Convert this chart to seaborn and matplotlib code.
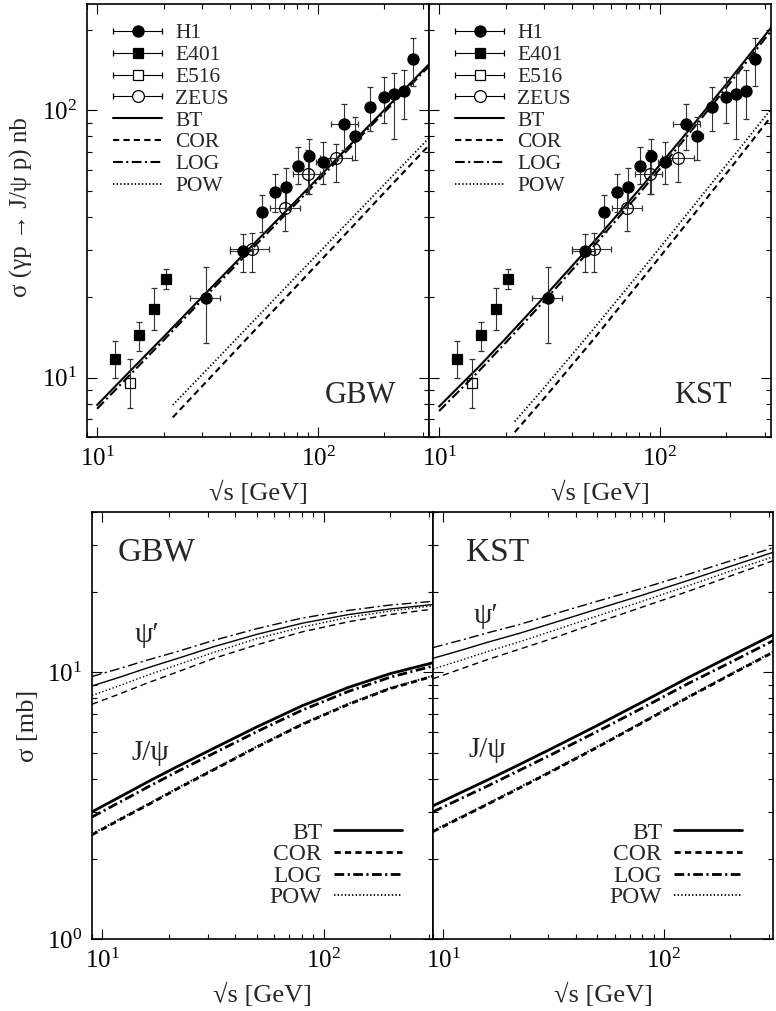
import numpy as np
import pandas as pd
import matplotlib
matplotlib.use('Agg')
import matplotlib.pyplot as plt
import seaborn as sns
from matplotlib.container import ErrorbarContainer
from matplotlib.legend_handler import HandlerErrorbar
from matplotlib.lines import Line2D
from matplotlib.ticker import LogLocator, NullFormatter

# ---- measured points (top panels) ----
h1_x = [31, 46, 56, 64, 72, 81, 91, 105, 131, 147, 172, 198, 221, 246, 270]
h1_y = [19.8, 29.7, 41.5, 49.3, 51.5, 62.0, 67.5, 64.0, 89.0, 80.0, 103, 112, 115, 118, 155]
h1_ylo = [13.5, 24.8, 35.0, 41.6, 43.0, 53.0, 48.6, 53.0, 71.0, 65.0, 84.0, 90.0, 78.0, 93.0, 123]
h1_yhi = [26.0, 34.5, 48.2, 58.0, 60.8, 73.0, 78.0, 76.0, 106, 94.8, 122, 133, 138, 142, 187]
h1_xlo = [26.3, 40.0, 54, 62, 70, 78, 88, 98, 114, 140, 172, 198, 221, 246, 270]
h1_xhi = [36.0, 51.0, 58, 66, 74, 84, 94, 112, 152, 156, 172, 198, 221, 246, 270]

e401_x = [12.1, 15.4, 18.1, 20.6]
e401_y = [11.7, 14.4, 18.0, 23.4]
e401_ylo = [10.0, 12.6, 15.1, 21.5]
e401_yhi = [13.7, 16.2, 21.6, 25.6]

e516_x = [14.1]
e516_y = [9.55]
e516_ylo = [7.7]
e516_yhi = [11.7]

zeus_x = [50.1, 71.0, 89.8, 120.5]
zeus_y = [30.3, 43.0, 57.7, 66.1]
zeus_ylo = [24.8, 35.5, 48.6, 54.1]
zeus_yhi = [34.8, 52.0, 71.0, 75.1]
zeus_xlo = [40.0, 60.7, 77.1, 102]
zeus_xhi = [60.0, 83.0, 102, 142]

# ---- model curves, top panels (sigma in nb) ----
top_x = [10, 15, 20, 30, 50, 80, 130, 200, 320]
top_x2 = [22, 30, 50, 80, 130, 200, 320]
gbw_top_bt = [7.9, 11.15, 14.2, 20.1, 31.0, 46.1, 69.8, 100.4, 149.5]
gbw_top_log = [7.65, 10.8, 13.8, 19.6, 30.2, 45.0, 68.3, 98.5, 147]
gbw_top_cor = [7.1, 9.32, 14.6, 22.0, 33.7, 49.3, 74.4]
gbw_top_pow = [7.9, 10.3, 16.0, 24.0, 36.5, 52.9, 79.2]
kst_top_bt = [7.8, 10.9, 14.0, 20.1, 32.1, 50.2, 81.1, 125.6, 205]
kst_top_log = [7.5, 10.5, 13.5, 19.4, 31.0, 48.5, 78.5, 121.8, 199]
kst_top_cor = [6.25, 8.4, 13.9, 22.5, 37.1, 58.1, 95.2]
kst_top_pow = [6.85, 9.2, 15.2, 24.4, 40.1, 62.5, 101.5]

# ---- model curves, bottom panels (sigma in mb) ----
bot_x = [9, 12, 16, 22, 32, 50, 80, 130, 200, 315]
gbw_psi2_bt = [8.9, 9.6, 10.4, 11.3, 12.5, 13.9, 15.3, 16.5, 17.3, 18.0]
gbw_psi2_log = [9.66, 10.35, 11.13, 12.0, 13.2, 14.6, 16.0, 17.1, 17.9, 18.5]
gbw_psi2_pow = [8.2, 8.93, 9.76, 10.7, 11.9, 13.4, 14.8, 16.1, 17.0, 17.8]
gbw_psi2_cor = [7.6, 8.31, 9.13, 10.06, 11.3, 12.7, 14.2, 15.5, 16.5, 17.3]
gbw_jpsi_bt = [3.0, 3.41, 3.88, 4.45, 5.2, 6.25, 7.5, 8.8, 9.9, 10.9]
gbw_jpsi_log = [2.87, 3.26, 3.71, 4.26, 4.98, 6.0, 7.22, 8.5, 9.6, 10.6]
gbw_jpsi_cor = [2.46, 2.8, 3.18, 3.67, 4.32, 5.25, 6.38, 7.6, 8.7, 9.7]
gbw_jpsi_pow = [2.48, 2.82, 3.2, 3.7, 4.35, 5.28, 6.42, 7.65, 8.75, 9.75]
kst_psi2_bt = [11.3, 12.1, 13.0, 14.0, 15.4, 17.3, 19.5, 22.2, 25.0, 28.3]
kst_psi2_log = [12.4, 13.2, 14.1, 15.1, 16.6, 18.5, 20.7, 23.4, 26.2, 29.4]
kst_psi2_pow = [10.3, 11.1, 12.0, 13.0, 14.4, 16.3, 18.5, 21.2, 24.0, 27.2]
kst_psi2_cor = [9.47, 10.3, 11.2, 12.2, 13.5, 15.4, 17.6, 20.2, 23.0, 26.3]
kst_jpsi_bt = [3.16, 3.54, 3.96, 4.5, 5.25, 6.33, 7.75, 9.6, 11.5, 13.9]
kst_jpsi_log = [3.0, 3.36, 3.76, 4.28, 4.99, 6.01, 7.36, 9.12, 10.9, 13.2]
kst_jpsi_cor = [2.53, 2.85, 3.21, 3.67, 4.31, 5.24, 6.48, 8.1, 9.8, 11.95]
kst_jpsi_pow = [2.55, 2.87, 3.23, 3.7, 4.34, 5.28, 6.52, 8.15, 9.86, 12.0]

models = ['BT', 'COR', 'LOG', 'POW']

sns.set_theme(style='ticks')
plt.rcParams['font.family'] = ['Liberation Serif', 'DejaVu Serif']
plt.rcParams['mathtext.fontset'] = 'stix'
plt.rcParams['lines.scale_dashes'] = False
plt.rcParams['axes.edgecolor'] = 'black'
plt.rcParams['xtick.color'] = 'black'
plt.rcParams['ytick.color'] = 'black'

LS = {'BT': '-', 'COR': (0, (4.5, 3)), 'LOG': (0, (7, 2.5, 1.5, 2.5)), 'POW': (0, (1, 1.6))}


def curve(ax, x, y, model, lw):
    sns.lineplot(x=x, y=y, ax=ax, color='black', lw=lw, linestyle=LS[model],
                 estimator=None, sort=False, legend=False)


def points(ax, x, y, ylo, yhi, marker, ms, mfc, xlo=None, xhi=None):
    yerr = [np.subtract(y, ylo), np.subtract(yhi, y)]
    xerr = None if xlo is None else [np.subtract(x, xlo), np.subtract(xhi, x)]
    ax.errorbar(x, y, yerr=yerr, xerr=xerr, fmt=marker, ms=ms, mfc=mfc, mec='black',
                mew=0.9, color='black', ecolor='#333333', elinewidth=0.8,
                capsize=2.5, capthick=0.8)


def proxy(ax, marker, ms, mfc):
    return ax.errorbar([np.nan], [np.nan], xerr=[1.0], fmt=marker, ms=ms, mfc=mfc,
                       mec='black', mew=0.9, color='black', ecolor='black',
                       elinewidth=0.8, capsize=2.5, capthick=0.8)


def style_axes(ax, xlim, ylim):
    ax.set_xscale('log')
    ax.set_yscale('log')
    ax.set_xlim(*xlim)
    ax.set_ylim(*ylim)
    for a in (ax.xaxis, ax.yaxis):
        a.set_major_locator(LogLocator(base=10, numticks=10))
        a.set_minor_locator(LogLocator(base=10, subs=np.arange(2, 10), numticks=20))
        a.set_minor_formatter(NullFormatter())
    ax.tick_params(which='both', direction='in', top=True, right=True, width=0.8,
                   labelsize=18, pad=7)
    ax.tick_params(which='major', length=7)
    ax.tick_params(which='minor', length=3.5)
    for s in ax.spines.values():
        s.set_linewidth(1.2)
        s.set_color('black')


fig = plt.figure(figsize=(7.76, 10.11), dpi=100)
ax_tl = fig.add_axes([0.1121, 0.5678, 0.4407, 0.4283])
ax_tr = fig.add_axes([0.5528, 0.5678, 0.4407, 0.4283])
ax_bl = fig.add_axes([0.1186, 0.0712, 0.4394, 0.4224])
ax_br = fig.add_axes([0.5580, 0.0712, 0.4381, 0.4224])

top = {ax_tl: ('GBW', gbw_top_bt, gbw_top_cor, gbw_top_log, gbw_top_pow),
       ax_tr: ('KST', kst_top_bt, kst_top_cor, kst_top_log, kst_top_pow)}

for ax, (name, bt, cor, lg, pw) in top.items():
    style_axes(ax, (9.0, 318), (6.0, 250))
    curve(ax, top_x, bt, 'BT', 1.5)
    curve(ax, top_x, lg, 'LOG', 1.5)
    curve(ax, top_x2, cor, 'COR', 1.5)
    curve(ax, top_x2, pw, 'POW', 1.3)
    points(ax, h1_x, h1_y, h1_ylo, h1_yhi, 'o', 8, 'black', h1_xlo, h1_xhi)
    points(ax, e401_x, e401_y, e401_ylo, e401_yhi, 's', 7.5, 'black')
    points(ax, e516_x, e516_y, e516_ylo, e516_yhi, 's', 7, 'none')
    points(ax, zeus_x, zeus_y, zeus_ylo, zeus_yhi, 'o', 8.5, 'none', zeus_xlo, zeus_xhi)

    handles = [proxy(ax, 'o', 8, 'black'), proxy(ax, 's', 7.5, 'black'),
               proxy(ax, 's', 7, 'white'), proxy(ax, 'o', 8.5, 'white')]
    handles += [Line2D([], [], color='black', lw=1.5 if m != 'POW' else 1.3, linestyle=LS[m])
                for m in models]
    ax.legend(handles, ['H1', 'E401', 'E516', 'ZEUS'] + models, loc='upper left',
              bbox_to_anchor=(0.076, 0.955), frameon=False, fontsize=15.5,
              handlelength=2.3, handletextpad=0.6, labelspacing=0.08,
              borderaxespad=0.0, borderpad=0.0,
              handler_map={ErrorbarContainer: HandlerErrorbar(xerr_size=1.15)})
    ax.text(0.80, 0.095, name, transform=ax.transAxes, ha='center', va='center', fontsize=22)
    ax.set_xlabel('√s [GeV]', fontsize=19, labelpad=7)

ax_tl.set_ylabel('σ (γp → J/ψ p) nb', fontsize=18)
ax_tl.yaxis.set_label_coords(-0.158, 0.53)
ax_tr.tick_params(labelleft=False)

bottom = {ax_bl: ('GBW', [gbw_psi2_bt, gbw_psi2_cor, gbw_psi2_log, gbw_psi2_pow],
                  [gbw_jpsi_bt, gbw_jpsi_cor, gbw_jpsi_log, gbw_jpsi_pow],
                  (15.9, 12.3), (16.5, 5.0)),
          ax_br: ('KST', [kst_psi2_bt, kst_psi2_cor, kst_psi2_log, kst_psi2_pow],
                  [kst_jpsi_bt, kst_jpsi_cor, kst_jpsi_log, kst_jpsi_pow],
                  (15.6, 14.5), (15.8, 5.1))}

for ax, (name, psi2, jpsi, p2pos, jpos) in bottom.items():
    style_axes(ax, (9.0, 312), (1.0, 40))
    for m, y in zip(models, psi2):
        curve(ax, bot_x, y, m, 1.0)
    for m, y in zip(models, jpsi):
        curve(ax, bot_x, y, m, 2.0 if m != 'POW' else 1.4)
    handles = [Line2D([], [], color='black', lw=2.0 if m != 'POW' else 1.3, linestyle=LS[m])
               for m in models]
    ax.legend(handles, models, loc='lower right', markerfirst=False, frameon=False,
              fontsize=17, handlelength=2.9, handletextpad=0.5, labelspacing=0.0,
              borderaxespad=0.9, borderpad=0.4)
    ax.text(0.19, 0.905, name, transform=ax.transAxes, ha='center', va='center', fontsize=24)
    ax.text(*p2pos, 'ψ′', ha='center', va='bottom', fontsize=21)
    ax.text(*jpos, 'J/ψ', ha='center', va='center', fontsize=21)
    ax.set_xlabel('√s [GeV]', fontsize=19, labelpad=7)

ax_bl.set_ylabel('σ [mb]', fontsize=19, labelpad=6)
ax_br.tick_params(labelleft=False)

fig.savefig('out.png', dpi=100, facecolor='white')
